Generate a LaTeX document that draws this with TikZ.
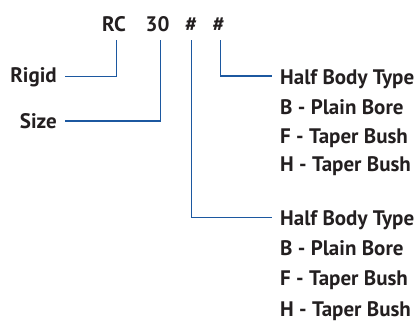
\documentclass[tikz,border=0pt]{standalone}
\usepackage{fontspec}
\setmainfont{PT Sans}
\definecolor{linkblue}{RGB}{28,88,160}
\definecolor{txt}{RGB}{35,31,32}
\begin{document}
\begin{tikzpicture}[x=1pt,y=-1pt,
  lbl/.style={inner sep=0pt,font=\fontsize{21}{21}\selectfont\bfseries,text=txt},
  link/.style={draw=linkblue,line width=1.3pt}]
\useasboundingbox (0,0) rectangle (419,325);
% top code
\node[lbl,anchor=base] (rc) at (114,31) {RC};
\node[lbl,anchor=base] (sz) at (157.5,31) {30};
\node[lbl,anchor=base] (h1) at (191,31) {\#};
\node[lbl,anchor=base] (h2) at (218.5,31) {\#};
% left labels
\node[lbl,anchor=base east] (rigid) at (57,82) {Rigid};
\node[lbl,anchor=base east] (size) at (57,128) {Size};
% right groups
\node[lbl,anchor=base west] (t1) at (280,84) {Half Body Type};
\node[lbl,anchor=base west] (b1) at (280,114) {B - Plain Bore};
\node[lbl,anchor=base west] (f1) at (280,143) {F - Taper Bush};
\node[lbl,anchor=base west] (hh1) at (280,171) {H - Taper Bush};
\node[lbl,anchor=base west] (t2) at (280,225) {Half Body Type};
\node[lbl,anchor=base west] (b2) at (280,255) {B - Plain Bore};
\node[lbl,anchor=base west] (f2) at (280,285) {F - Taper Bush};
\node[lbl,anchor=base west] (hh2) at (280,316) {H - Taper Bush};
% connectors
\draw[link] ([shift={(2.7,9)}]rc.base) |- ([shift={(8,-5.3)}]rigid.base east);
\draw[link] ([shift={(2.8,9)}]sz.base) |- ([shift={(8,-7)}]size.base east);
\draw[link] ([shift={(0.7,9)}]h1.base) |- ([shift={(-8,-7.3)}]t2.base west);
\draw[link] ([shift={(1.8,9)}]h2.base) |- ([shift={(-8,-8)}]t1.base west);
\end{tikzpicture}
\end{document}
